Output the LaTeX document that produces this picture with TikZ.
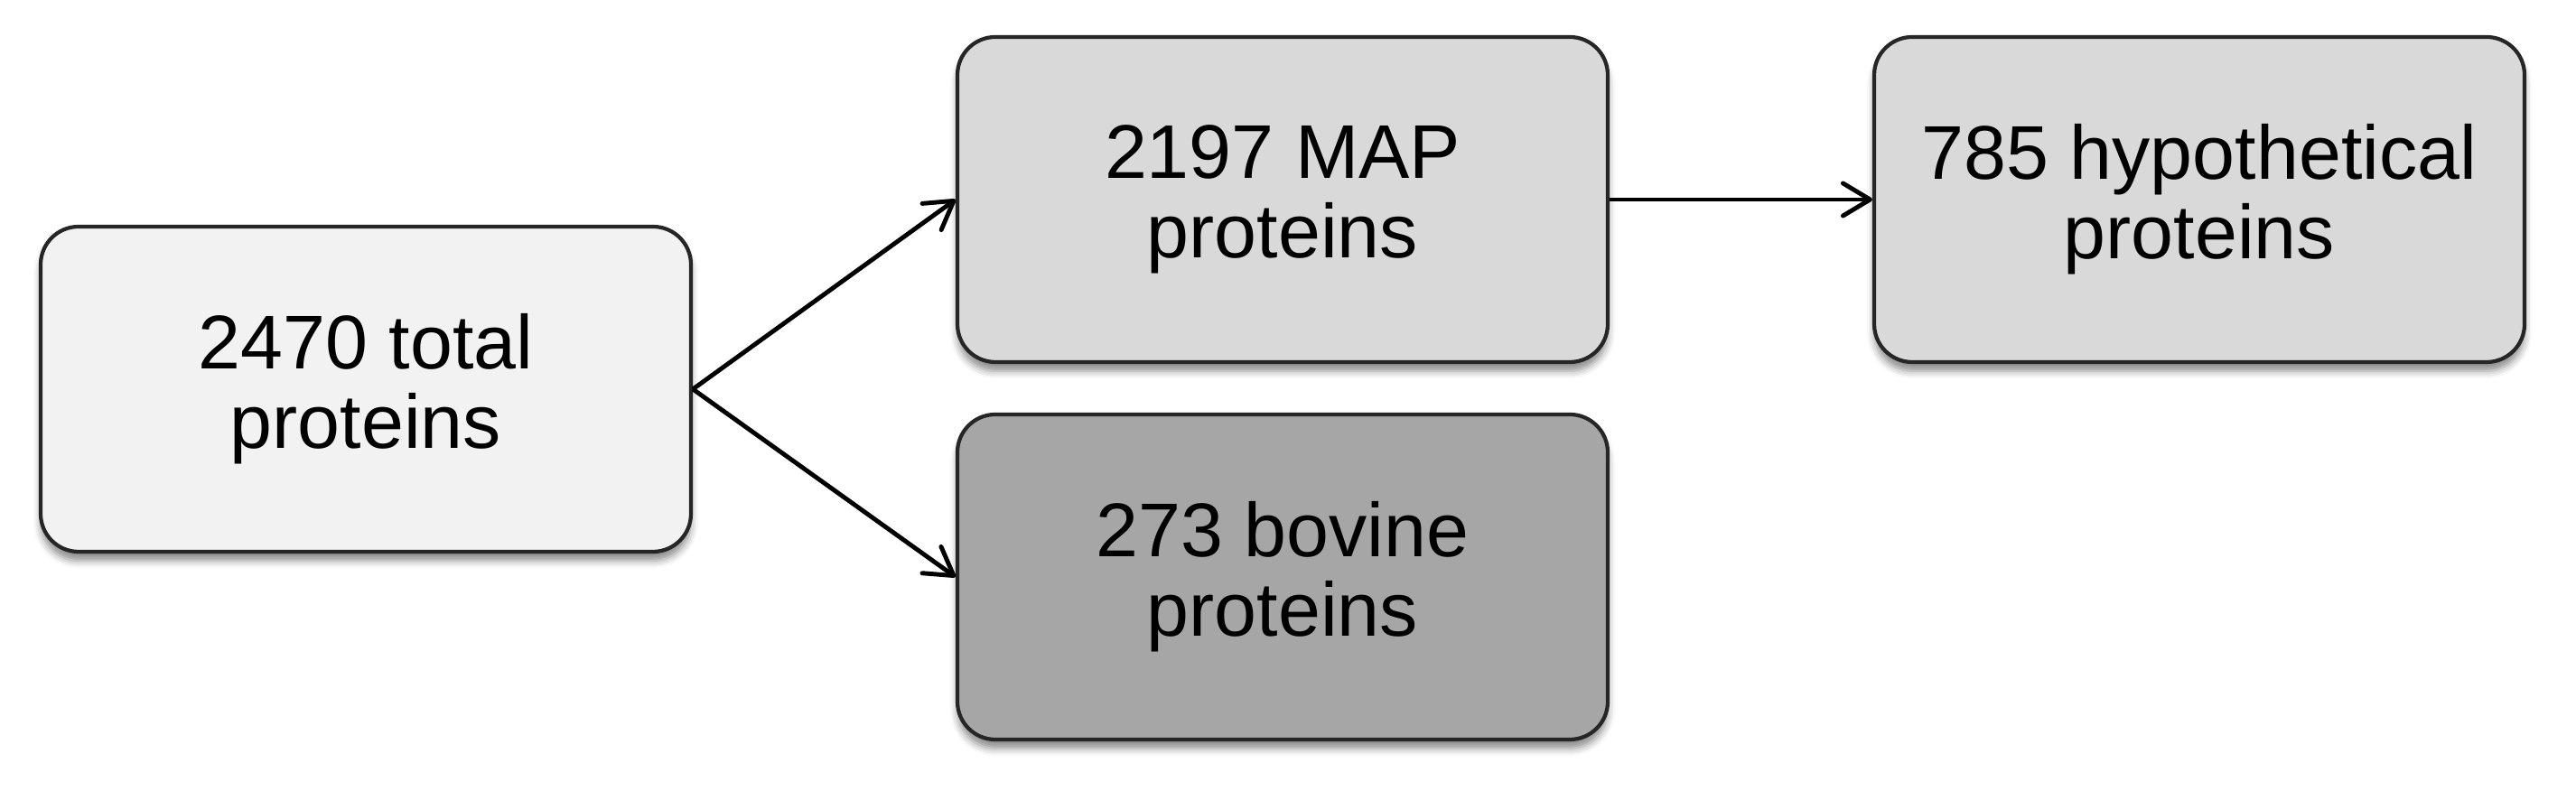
\documentclass[tikz,border=0pt]{standalone}
\usepackage{fontspec}
\setmainfont{Liberation Sans}
\usepackage{xcolor}
\usetikzlibrary{arrows.meta, positioning, shadows, shadows.blur}
\definecolor{boxlight}{RGB}{242, 242, 242}
\definecolor{boxmid}{RGB}{217, 217, 217}
\definecolor{boxdark}{RGB}{166, 166, 166}

\begin{document}
\begin{tikzpicture}[
    box/.style={rectangle, rounded corners=0.42cm, draw=black!85, line width=1.2pt,
                minimum width=7.2cm, minimum height=3.6cm, align=center,
                font=\fontsize{24}{25}\selectfont,
                blur shadow={shadow xshift=0pt, shadow yshift=-0.1cm,
                             shadow blur radius=0.08cm, shadow opacity=45}},
    link/.style={-{Straight Barb[length=0.3cm, width=0.36cm, round]}, line width=1.4pt}]
    \useasboundingbox (0, 0) rectangle (28.52, 8.76);

    % Boxes
    \node[box, fill=boxlight] (total) at (4.05, 4.45) {2470 total\\proteins};
    \node[box, fill=boxmid] (map) at (14.20, 6.55) {2197 MAP\\proteins};
    \node[box, fill=boxmid] (hypo) at (24.35, 6.55) {785 hypothetical\\proteins};
    \node[box, fill=boxdark] (bovine) at (14.20, 2.37) {273 bovine\\proteins};

    % Arrows
    \draw[link] (total.east) -- (map.west);
    \draw[link] (total.east) -- (bovine.west);
    \draw[link] (map) -- (hypo);
\end{tikzpicture}
\end{document}
